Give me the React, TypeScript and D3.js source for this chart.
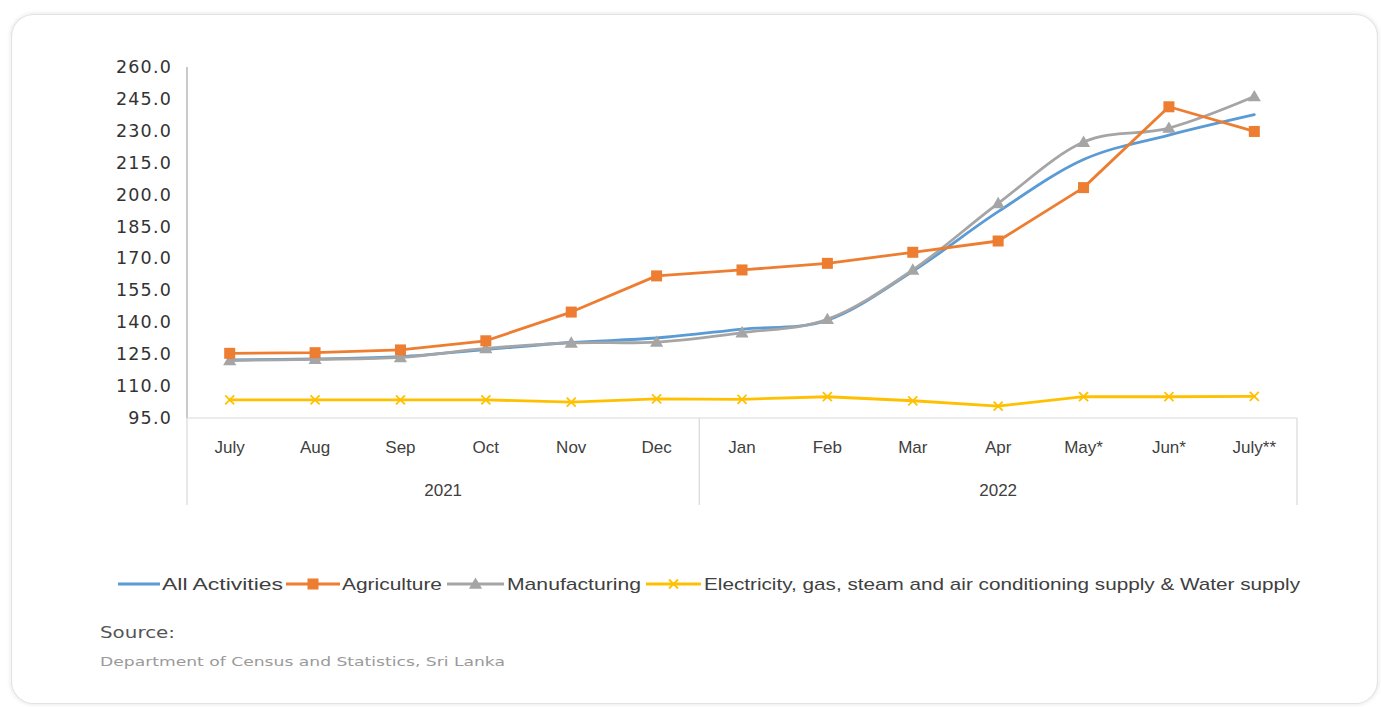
import React from "react";
import * as d3 from "d3";

const categories = ["July", "Aug", "Sep", "Oct", "Nov", "Dec", "Jan", "Feb", "Mar", "Apr", "May*", "Jun*", "July**"];
const years = [
  { label: "2021", from: 0, to: 5 },
  { label: "2022", from: 6, to: 12 },
];
const allActivities = [122.3, 122.8, 123.8, 127.2, 130.5, 132.6, 136.8, 141.0, 164.0, 192.0, 216.5, 228.0, 237.6];
const agriculture = [125.4, 125.7, 127.0, 131.3, 144.8, 161.8, 164.6, 167.7, 172.9, 178.2, 203.3, 241.3, 229.7];
const manufacturing = [122.0, 122.6, 123.5, 127.7, 130.3, 130.7, 135.1, 141.4, 164.6, 195.9, 224.7, 231.3, 246.1];
const electricity = [103.5, 103.5, 103.5, 103.5, 102.5, 104.0, 103.8, 105.0, 103.1, 100.6, 105.0, 105.0, 105.2];
const yTicks = [95, 110, 125, 140, 155, 170, 185, 200, 215, 230, 245, 260];

const series = [
  { name: "All Activities", values: allActivities, color: "#5B9BD5", smooth: true, marker: "none" },
  { name: "Agriculture", values: agriculture, color: "#ED7D31", smooth: false, marker: "square" },
  { name: "Manufacturing", values: manufacturing, color: "#A5A5A5", smooth: true, marker: "triangle" },
  { name: "Electricity, gas, steam and air conditioning supply & Water supply", values: electricity, color: "#FFC000", smooth: false, marker: "x" },
];

const W = 1381;
const H = 707;
const left = 187;
const right = 1297;
const top = 67;
const bottom = 418;

function Marker({ type, x, y, color }: { type: string; x: number; y: number; color: string }) {
  if (type === "square") {
    return <rect x={x - 5.5} y={y - 5.5} width={11} height={11} fill={color} />;
  }
  if (type === "triangle") {
    const s = d3.symbol().type(d3.symbolTriangle).size(75)();
    return <path d={s || ""} transform={`translate(${x},${y + 1})`} fill={color} />;
  }
  if (type === "x") {
    const r = 4.5;
    return (
      <g stroke={color} strokeWidth={1.8}>
        <line x1={x - r} y1={y - r} x2={x + r} y2={y + r} />
        <line x1={x - r} y1={y + r} x2={x + r} y2={y - r} />
      </g>
    );
  }
  return null;
}

export default function App() {
  const x = d3.scaleBand<string>().domain(categories).range([left, right]).paddingInner(0).paddingOuter(0);
  const cx = (c: string) => (x(c) as number) + x.bandwidth() / 2;
  const y = d3.scaleLinear().domain([95, 260]).range([bottom, top]);

  const legendItems = [
    { lx1: 118, lx2: 160, tx: 162, tw: 121 },
    { lx1: 286, lx2: 340, tx: 342, tw: 100 },
    { lx1: 447, lx2: 504, tx: 507, tw: 134 },
    { lx1: 646, lx2: 701, tx: 704, tw: 596 },
  ];
  const legendY = 584;

  return (
    <svg width={W} height={H} style={{ position: "absolute", left: 0, top: 0, display: "block" }}>
      <defs>
        <filter id="sh" x="-5%" y="-5%" width="110%" height="110%">
          <feDropShadow dx="0" dy="0" stdDeviation="2" floodColor="#000" floodOpacity="0.12" />
        </filter>
      </defs>
      <rect x={0} y={0} width={W} height={H} fill="#fff" />
      <rect x={11.5} y={14.5} width={1366} height={689} rx={22} fill="#fff" stroke="#e3e3e3" strokeWidth={1.2} filter="url(#sh)" />

      {/* y axis */}
      <line x1={left} x2={left} y1={top} y2={bottom} stroke="#a6a6a6" strokeWidth={1.2} />
      {yTicks.map((t) => (
        <text
          key={t}
          x={172}
          y={y(t)}
          textAnchor="end"
          dominantBaseline="central"
          fontFamily="'DejaVu Sans', sans-serif"
          fontSize={17.5}
          letterSpacing={1.2}
          fill="#333"
        >
          {t.toFixed(1)}
        </text>
      ))}

      {/* x axis */}
      <line x1={left} x2={right} y1={bottom} y2={bottom} stroke="#d9d9d9" strokeWidth={1.2} />
      {[left, (x(categories[6]) as number), right].map((p, i) => (
        <line key={i} x1={p} x2={p} y1={bottom} y2={505} stroke="#d9d9d9" strokeWidth={1.2} />
      ))}
      {categories.map((c) => (
        <text
          key={c}
          x={cx(c)}
          y={447}
          textAnchor="middle"
          dominantBaseline="central"
          fontFamily="'Liberation Sans Narrow', 'Liberation Sans', sans-serif"
          fontSize={17}
          fill="#404040"
        >
          {c}
        </text>
      ))}
      {years.map((g) => (
        <text
          key={g.label}
          x={((x(categories[g.from]) as number) + (x(categories[g.to]) as number) + x.bandwidth()) / 2}
          y={490}
          textAnchor="middle"
          dominantBaseline="central"
          fontFamily="'Liberation Sans Narrow', 'Liberation Sans', sans-serif"
          fontSize={17}
          fill="#404040"
        >
          {g.label}
        </text>
      ))}

      {/* lines, drawn so that gray overlays blue like the reference */}
      {[3, 0, 2, 1].map((si) => {
        const s = series[si];
        const line = d3
          .line<number>()
          .x((_, i) => cx(categories[i]))
          .y((v) => y(v))
          .curve(s.smooth ? d3.curveCatmullRom.alpha(0) : d3.curveLinear);
        return (
          <g key={s.name}>
            <path d={line(s.values) || ""} fill="none" stroke={s.color} strokeWidth={2.8} strokeLinejoin="round" strokeLinecap="round" />
            {s.values.map((v, i) => (
              <Marker key={i} type={s.marker} x={cx(categories[i])} y={y(v)} color={s.color} />
            ))}
          </g>
        );
      })}

      {/* legend */}
      {series.map((s, i) => {
        const it = legendItems[i];
        const mid = (it.lx1 + it.lx2) / 2;
        return (
          <g key={s.name}>
            <line x1={it.lx1} x2={it.lx2} y1={legendY} y2={legendY} stroke={s.color} strokeWidth={2.8} />
            <Marker type={s.marker} x={mid} y={legendY} color={s.color} />
            <text
              x={it.tx}
              y={legendY}
              dominantBaseline="central"
              fontFamily="'Liberation Sans Narrow', 'Liberation Sans', sans-serif"
              fontSize={17}
              fill="#404040"
              textLength={it.tw}
              lengthAdjust="spacingAndGlyphs"
            >
              {s.name}
            </text>
          </g>
        );
      })}

      {/* source */}
      <text x={100} y={633} dominantBaseline="central" fontFamily="'DejaVu Sans', sans-serif" fontSize={15} fill="#555" textLength={75} lengthAdjust="spacingAndGlyphs">
        Source:
      </text>
      <text x={100} y={661} dominantBaseline="central" fontFamily="'DejaVu Sans', sans-serif" fontSize={13} fill="#9a9a9a" textLength={405} lengthAdjust="spacingAndGlyphs">
        Department of Census and Statistics, Sri Lanka
      </text>
    </svg>
  );
}
